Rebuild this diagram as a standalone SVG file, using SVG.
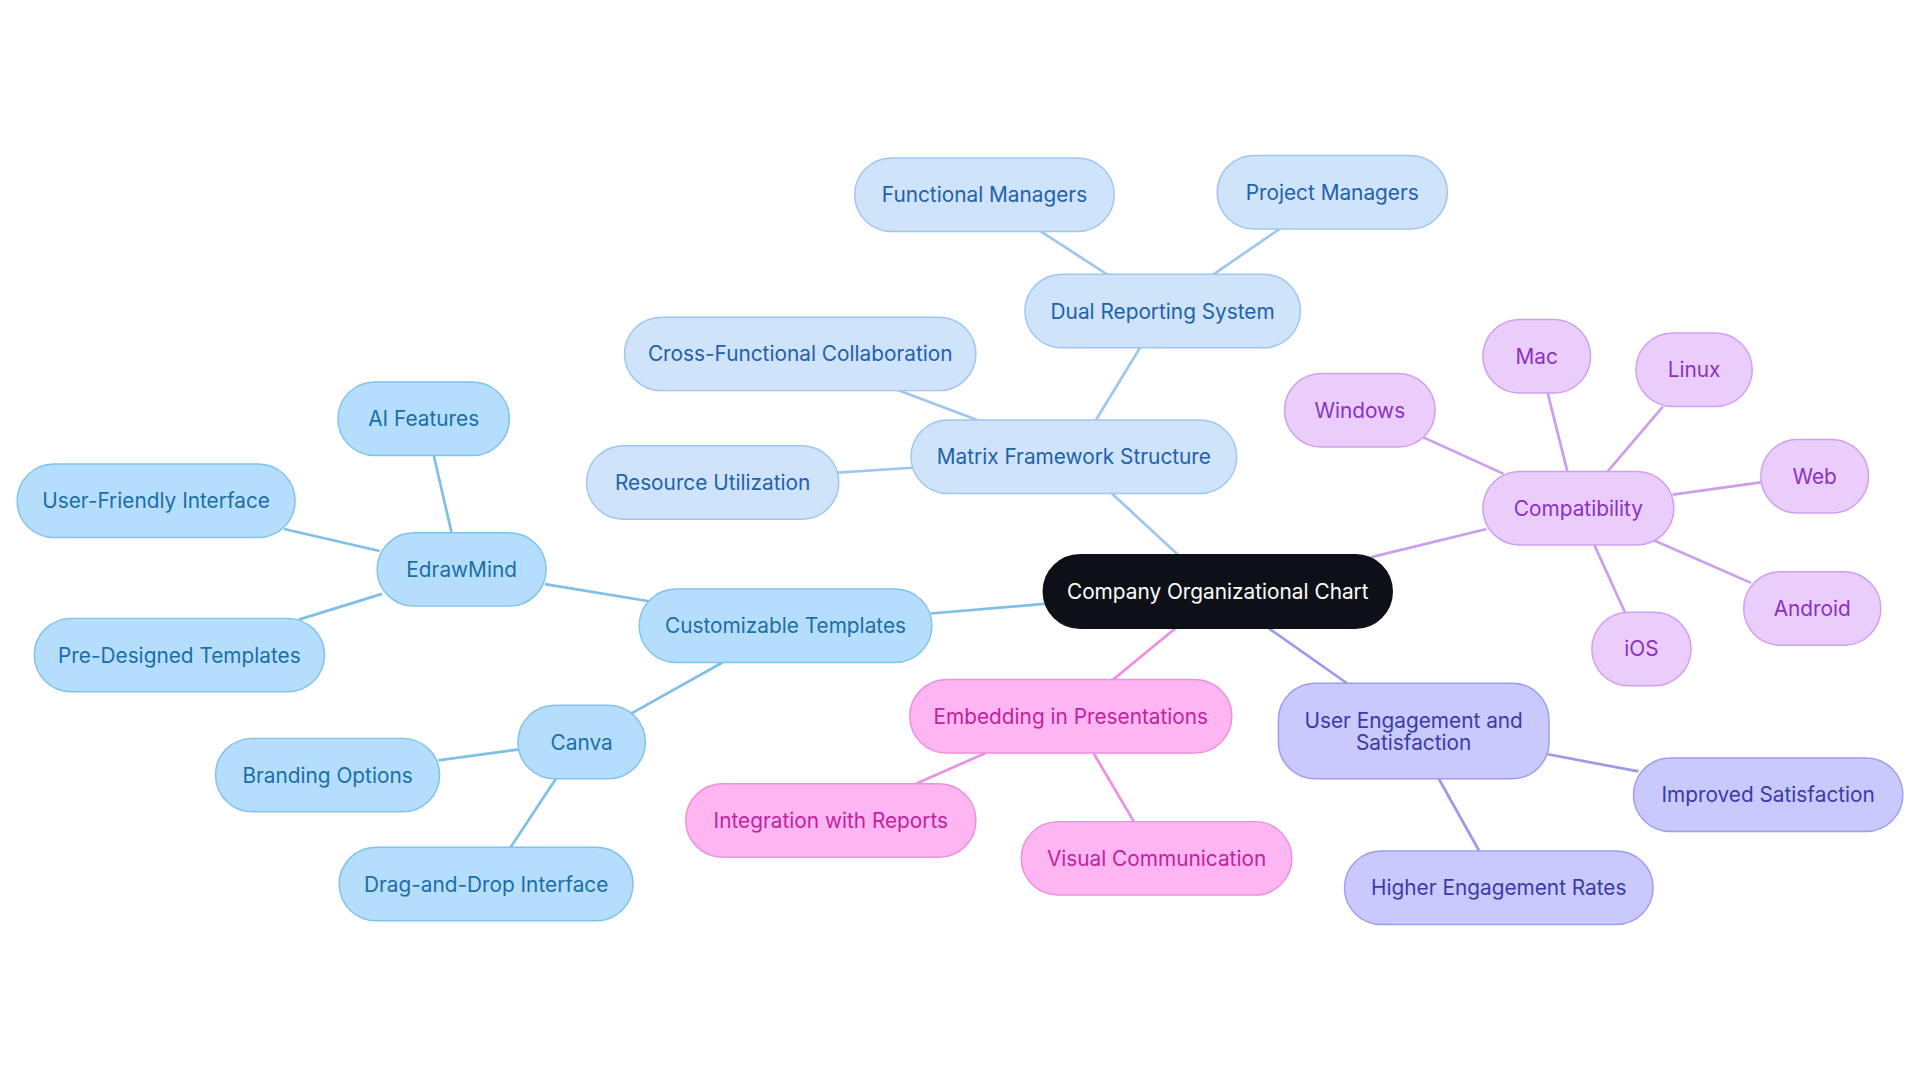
<svg xmlns="http://www.w3.org/2000/svg" width="1920" height="1083" viewBox="0 0 1920 1083">
<style>
text{font-family:Inter,"Noto Sans",sans-serif;font-size:17px;text-anchor:middle;dominant-baseline:central}
rect{stroke-width:1.2}
.b rect{fill:#b5defc;stroke:#80c2ee}.b text{fill:#1c6ea6}
.l rect{fill:#cfe3fb;stroke:#9fc6f0}.l text{fill:#2262a8}
.p rect{fill:#ebcdfb;stroke:#cfa0f0}.p text{fill:#8a32bf}
.k rect{fill:#fdb6f1;stroke:#ee8fe0}.k text{fill:#c0239f}
.v rect{fill:#c9c9fd;stroke:#9c9cf0}.v text{fill:#3b3ba6}
#edges line{stroke-width:2.2}
</style>
<rect width="1920" height="1083" fill="#fff"/>
<g transform="scale(1.2245)">
<g id="edges">
<g stroke="#7fbfe8">
<line x1="855" y1="493" x2="760" y2="501"/><line x1="530" y1="491" x2="445" y2="477"/>
<line x1="369" y1="436" x2="354" y2="371"/><line x1="310" y1="450" x2="232" y2="432"/>
<line x1="312" y1="485" x2="244" y2="506"/><line x1="590" y1="541" x2="515" y2="583"/>
<line x1="424" y1="612" x2="358" y2="621"/><line x1="454" y1="636" x2="417" y2="692"/>
</g>
<g stroke="#a0c6ee">
<line x1="962" y1="453" x2="908" y2="403"/><line x1="745" y1="382" x2="684" y2="386"/>
<line x1="798" y1="343" x2="732" y2="318"/><line x1="895" y1="343" x2="931" y2="284"/>
<line x1="904" y1="224" x2="850" y2="189"/><line x1="991" y1="224" x2="1045" y2="187"/>
</g>
<g stroke="#cc9eee">
<line x1="1120" y1="455" x2="1214" y2="432"/><line x1="1228" y1="387" x2="1162" y2="357"/>
<line x1="1280" y1="385" x2="1264" y2="321"/><line x1="1313" y1="385" x2="1358" y2="332"/>
<line x1="1366" y1="404" x2="1438" y2="394"/><line x1="1350" y1="441" x2="1430" y2="476"/>
<line x1="1302" y1="445" x2="1327" y2="500"/>
</g>
<g stroke="#ee90e0">
<line x1="960" y1="513" x2="909" y2="555"/><line x1="805" y1="615" x2="748" y2="640"/>
<line x1="893" y1="615" x2="926" y2="671"/>
</g>
<g stroke="#9a9aea">
<line x1="1036" y1="513" x2="1100" y2="558"/><line x1="1264" y1="616" x2="1338" y2="630"/>
<line x1="1175" y1="636" x2="1208" y2="695"/>
</g>
</g>
<g id="center"><rect x="852" y="453" width="285" height="60" rx="30" fill="#0d1117" stroke="#0d1117"/><text x="994.5" y="483" fill="#fff">Company Organizational Chart</text></g>
<g id="n1" class="b"><rect x="522" y="481" width="239" height="60" rx="30"/><text x="641.5" y="511">Customizable Templates</text></g>
<g id="n2" class="b"><rect x="308" y="435" width="138" height="60" rx="30"/><text x="377" y="465">EdrawMind</text></g>
<g id="n3" class="b"><rect x="276" y="312" width="140" height="60" rx="30"/><text x="346" y="342">AI Features</text></g>
<g id="n4" class="b"><rect x="14" y="379" width="227" height="60" rx="30"/><text x="127.5" y="409">User-Friendly Interface</text></g>
<g id="n5" class="b"><rect x="28" y="505" width="237" height="60" rx="30"/><text x="146.5" y="535">Pre-Designed Templates</text></g>
<g id="n6" class="b"><rect x="423" y="576" width="104" height="60" rx="30"/><text x="475" y="606">Canva</text></g>
<g id="n7" class="b"><rect x="176" y="603" width="183" height="60" rx="30"/><text x="267.5" y="633">Branding Options</text></g>
<g id="n8" class="b"><rect x="277" y="692" width="240" height="60" rx="30"/><text x="397" y="722">Drag-and-Drop Interface</text></g>
<g id="n9" class="l"><rect x="744" y="343" width="266" height="60" rx="30"/><text x="877" y="373">Matrix Framework Structure</text></g>
<g id="n10" class="l"><rect x="479" y="364" width="206" height="60" rx="30"/><text x="582" y="394">Resource Utilization</text></g>
<g id="n11" class="l"><rect x="510" y="259" width="287" height="60" rx="30"/><text x="653.5" y="289">Cross-Functional Collaboration</text></g>
<g id="n12" class="l"><rect x="837" y="224" width="225" height="60" rx="30"/><text x="949.5" y="254">Dual Reporting System</text></g>
<g id="n13" class="l"><rect x="698" y="129" width="212" height="60" rx="30"/><text x="804" y="159">Functional Managers</text></g>
<g id="n14" class="l"><rect x="994" y="127" width="188" height="60" rx="30"/><text x="1088" y="157">Project Managers</text></g>
<g id="n15" class="p"><rect x="1211" y="385" width="156" height="60" rx="30"/><text x="1289" y="415">Compatibility</text></g>
<g id="n16" class="p"><rect x="1049" y="305" width="123" height="60" rx="30"/><text x="1110.5" y="335">Windows</text></g>
<g id="n17" class="p"><rect x="1211" y="261" width="88" height="60" rx="30"/><text x="1255" y="291">Mac</text></g>
<g id="n18" class="p"><rect x="1336" y="272" width="95" height="60" rx="30"/><text x="1383.5" y="302">Linux</text></g>
<g id="n19" class="p"><rect x="1438" y="359" width="88" height="60" rx="30"/><text x="1482" y="389">Web</text></g>
<g id="n20" class="p"><rect x="1424" y="467" width="112" height="60" rx="30"/><text x="1480" y="497">Android</text></g>
<g id="n21" class="p"><rect x="1300" y="500" width="81" height="60" rx="30"/><text x="1340.5" y="530">iOS</text></g>
<g id="n22" class="k"><rect x="743" y="555" width="263" height="60" rx="30"/><text x="874.5" y="585">Embedding in Presentations</text></g>
<g id="n23" class="k"><rect x="560" y="640" width="237" height="60" rx="30"/><text x="678.5" y="670">Integration with Reports</text></g>
<g id="n24" class="k"><rect x="834" y="671" width="221" height="60" rx="30"/><text x="944.5" y="701">Visual Communication</text></g>
<g id="n25" class="v"><rect x="1044" y="558" width="221" height="78" rx="30"/><text x="1154.5" y="588">User Engagement and</text><text x="1154.5" y="606">Satisfaction</text></g>
<g id="n26" class="v"><rect x="1334" y="619" width="220" height="60" rx="30"/><text x="1444" y="649">Improved Satisfaction</text></g>
<g id="n27" class="v"><rect x="1098" y="695" width="252" height="60" rx="30"/><text x="1224" y="725">Higher Engagement Rates</text></g>
</g>
</svg>
